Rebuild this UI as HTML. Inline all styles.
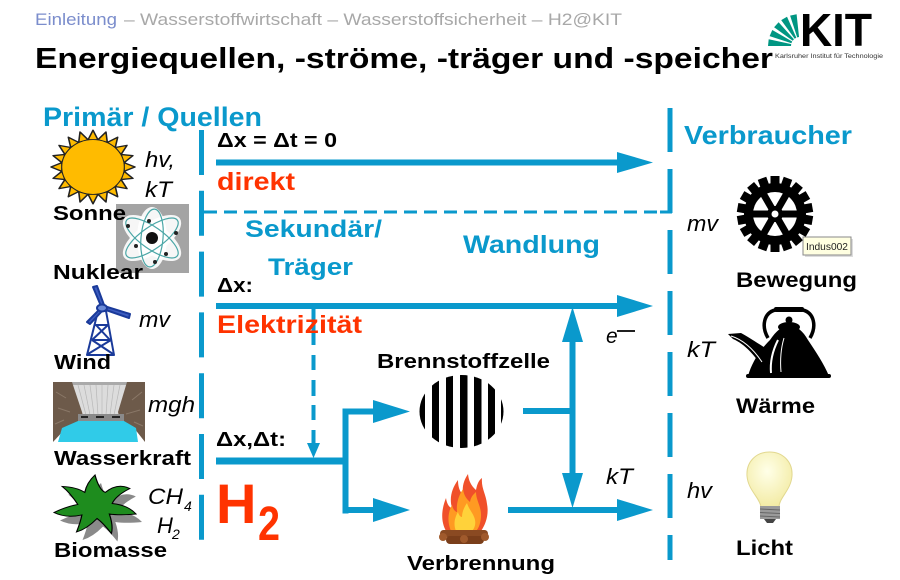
<!DOCTYPE html>
<html><head><meta charset="utf-8"><style>
html,body{margin:0;padding:0;background:#fff;}
svg{display:block;}
text{font-family:"Liberation Sans",Arial,sans-serif;}
.b{font-weight:700;}
.i{font-style:italic;}
</style></head><body>
<svg width="900" height="580" viewBox="0 0 900 580" xmlns="http://www.w3.org/2000/svg">
<rect width="900" height="580" fill="#fff"/>
<!-- header -->
<text x="35" y="25" font-size="17" fill="#7b8dcc" textLength="82" lengthAdjust="spacingAndGlyphs">Einleitung</text>
<text x="124" y="25" font-size="17" fill="#a8a8a8" textLength="498" lengthAdjust="spacingAndGlyphs">– Wasserstoffwirtschaft – Wasserstoffsicherheit – H2@KIT</text>
<text x="35" y="68" font-size="29" class="b" fill="#000" textLength="738" lengthAdjust="spacingAndGlyphs">Energiequellen, -ströme, -träger und -speicher</text>
<!-- KIT logo -->
<g fill="#009682">
<polygon points="800,46 768,46 768.7,39.3"/>
<polygon points="800,46 769.6,36.1 772.3,30"/>
<polygon points="800,46 774.1,27.2 778.6,22.2"/>
<polygon points="800,46 781.2,20.1 787,16.8"/>
<polygon points="800,46 790.1,15.6 796.6,14.2"/>
</g>
<circle cx="800" cy="46" r="9" fill="#fff"/>
<text x="800" y="46" font-size="46" class="b" fill="#000" textLength="72" lengthAdjust="spacingAndGlyphs">KIT</text>
<text x="775" y="58" font-size="6.5" fill="#333" textLength="108" lengthAdjust="spacingAndGlyphs">Karlsruher Institut für Technologie</text>

<!-- section titles -->
<text x="43" y="126" font-size="27" class="b" fill="#0a99cc" textLength="219" lengthAdjust="spacingAndGlyphs">Primär / Quellen</text>
<text x="684" y="144" font-size="26" class="b" fill="#0a99cc" textLength="168" lengthAdjust="spacingAndGlyphs">Verbraucher</text>

<!-- dashed verticals -->
<line x1="201.5" y1="130" x2="201.5" y2="540" stroke="#0a99cc" stroke-width="5" stroke-dasharray="45 15.8"/>
<line x1="670" y1="108" x2="670" y2="560" stroke="#0a99cc" stroke-width="5" stroke-dasharray="44 17"/>
<!-- dashed horizontal -->
<line x1="204" y1="212" x2="668" y2="212" stroke="#0a99cc" stroke-width="3" stroke-dasharray="13 7"/>
<line x1="660" y1="212" x2="672" y2="212" stroke="#0a99cc" stroke-width="3"/>

<!-- arrows -->
<g fill="#0a99cc" stroke="none">
<rect x="216" y="159.5" width="404" height="6"/>
<polygon points="617,152 653,162.5 617,173"/>
<rect x="216" y="303" width="404" height="6"/>
<polygon points="617,295 653,306 617,317"/>
<rect x="216" y="457.5" width="132" height="7"/>
<rect x="342.5" y="408.5" width="6" height="105"/>
<rect x="342.5" y="408.5" width="34" height="6"/>
<polygon points="373,400 410,411.5 373,423"/>
<rect x="342.5" y="507" width="34" height="6"/>
<polygon points="373,498 410,510 373,522"/>
<rect x="523" y="408" width="52" height="6"/>
<rect x="569.5" y="338" width="6" height="138"/>
<polygon points="562,342 572.5,307 583,342"/>
<polygon points="562,473 572.5,508 583,473"/>
<rect x="508" y="507" width="112" height="6"/>
<polygon points="617,499 653,510 617,521"/>
<!-- small dashed arrow -->
<rect x="311.5" y="308" width="4" height="37"/>
<rect x="311.5" y="355" width="4" height="15"/>
<rect x="311.5" y="380" width="4" height="16"/>
<rect x="311.5" y="405" width="4" height="15"/>
<rect x="311.5" y="430" width="4" height="14"/>
<polygon points="307,443 313.5,458 320,443"/>
</g>

<!-- middle labels -->
<text x="217" y="147" font-size="20" class="b" fill="#000" textLength="120" lengthAdjust="spacingAndGlyphs">Δx = Δt = 0</text>
<text x="217" y="190" font-size="25" class="b" fill="#ff3300" textLength="78" lengthAdjust="spacingAndGlyphs">direkt</text>
<text x="245" y="237" font-size="24" class="b" fill="#0a99cc" textLength="137" lengthAdjust="spacingAndGlyphs">Sekundär/</text>
<text x="268" y="275" font-size="24" class="b" fill="#0a99cc" textLength="85" lengthAdjust="spacingAndGlyphs">Träger</text>
<text x="463" y="253" font-size="25" class="b" fill="#0a99cc" textLength="137" lengthAdjust="spacingAndGlyphs">Wandlung</text>
<text x="217" y="292" font-size="20" class="b" fill="#000" textLength="36" lengthAdjust="spacingAndGlyphs">Δx:</text>
<text x="217" y="333" font-size="25" class="b" fill="#ff3300" textLength="145" lengthAdjust="spacingAndGlyphs">Elektrizität</text>
<text x="216" y="446" font-size="20" class="b" fill="#000" textLength="70" lengthAdjust="spacingAndGlyphs">Δx,Δt:</text>
<text x="216" y="523" font-size="56" class="b" fill="#ff3300">H</text>
<text x="258" y="540" font-size="48" class="b" fill="#ff3300" textLength="22" lengthAdjust="spacingAndGlyphs">2</text>
<text x="377" y="368" font-size="20" class="b" fill="#000" textLength="173" lengthAdjust="spacingAndGlyphs">Brennstoffzelle</text>
<text x="407" y="570" font-size="20" class="b" fill="#000" textLength="148" lengthAdjust="spacingAndGlyphs">Verbrennung</text>
<text x="606" y="343" font-size="21" class="i" fill="#000">e</text>
<line x1="617" y1="331" x2="635" y2="331" stroke="#000" stroke-width="1.8"/>
<text x="606" y="484" font-size="22" class="i" fill="#000" textLength="27" lengthAdjust="spacingAndGlyphs">kT</text>

<!-- fuel cell -->
<defs>
<clipPath id="fc"><ellipse cx="461.5" cy="411.5" rx="42" ry="36.5"/></clipPath>
</defs>
<g clip-path="url(#fc)" fill="#000">
<rect x="418" y="370" width="7" height="85"/>
<rect x="432" y="370" width="7" height="85"/>
<rect x="446" y="370" width="7" height="85"/>
<rect x="460" y="370" width="7.5" height="85"/>
<rect x="474" y="370" width="7.5" height="85"/>
<rect x="488" y="370" width="7" height="85"/>
<rect x="501" y="370" width="7" height="85"/>
</g>

<!-- fire -->
<g>
<path d="M446,531 C440,520 442,508 446,498 C447,505 450,508 452,508 C449,498 452,488 458,480 C458,490 462,494 463,494 C462,486 464,480 468,474 C469,484 474,488 476,490 C477,484 479,480 482,478 C481,488 486,494 487,504 C489,514 486,524 481,531 Z" fill="#f0502a"/>
<path d="M451,531 C447,522 448,512 452,505 C453,510 456,512 457,512 C456,503 459,495 463,489 C464,497 468,500 470,502 C471,496 474,494 476,492 C476,500 481,506 481,515 C481,522 479,528 476,531 Z" fill="#ff9a22"/>
<path d="M456,531 C453,524 455,517 458,512 C459,516 461,517 462,517 C462,511 465,506 467,503 C469,510 474,514 475,520 C476,525 474,529 472,531 Z" fill="#ffd23a"/>
<rect x="440" y="530" width="48" height="7" rx="3.5" fill="#8a4a22"/>
<rect x="446" y="536" width="38" height="8" rx="4" fill="#7a3e1a"/>
<circle cx="443" cy="537" r="4" fill="#a05a2c"/>
<circle cx="464" cy="539" r="4" fill="#a05a2c"/>
<circle cx="485" cy="537" r="4" fill="#a05a2c"/>
</g>

<!-- sun -->
<g transform="translate(93,167) scale(1.05,0.92)">
<defs><polygon id="sp" points="-4.7,-29.6 0,-40 4.7,-29.6" fill="#ffbb00" stroke="#222" stroke-width="1.5" stroke-linejoin="round"/></defs>
<use href="#sp"/><use href="#sp" transform="rotate(18)"/><use href="#sp" transform="rotate(36)"/><use href="#sp" transform="rotate(54)"/><use href="#sp" transform="rotate(72)"/><use href="#sp" transform="rotate(90)"/><use href="#sp" transform="rotate(108)"/><use href="#sp" transform="rotate(126)"/><use href="#sp" transform="rotate(144)"/><use href="#sp" transform="rotate(162)"/><use href="#sp" transform="rotate(180)"/><use href="#sp" transform="rotate(198)"/><use href="#sp" transform="rotate(216)"/><use href="#sp" transform="rotate(234)"/><use href="#sp" transform="rotate(252)"/><use href="#sp" transform="rotate(270)"/><use href="#sp" transform="rotate(288)"/><use href="#sp" transform="rotate(306)"/><use href="#sp" transform="rotate(324)"/><use href="#sp" transform="rotate(342)"/>
<circle r="29.3" fill="#ffbb00"/>
</g>
<text x="145" y="167" font-size="22" class="i" fill="#000" textLength="30" lengthAdjust="spacingAndGlyphs">hv,</text>
<text x="145" y="197" font-size="22" class="i" fill="#000" textLength="27" lengthAdjust="spacingAndGlyphs">kT</text>

<!-- atom -->
<rect x="116" y="204" width="73" height="69" fill="#a4a4a4"/>
<g transform="translate(152,238)">
<ellipse rx="34" ry="15" fill="#fff" opacity="0.9" transform="rotate(35)"/>
<ellipse rx="34" ry="15" fill="#fff" opacity="0.9" transform="rotate(-35)"/>
<ellipse rx="15" ry="31" fill="#fff" opacity="0.9"/>
<ellipse rx="31" ry="11" fill="none" stroke="#4aa6a6" stroke-width="1.2" transform="rotate(35)"/>
<ellipse rx="31" ry="11" fill="none" stroke="#4aa6a6" stroke-width="1.2" transform="rotate(-35)"/>
<ellipse rx="11" ry="29" fill="none" stroke="#4aa6a6" stroke-width="1.2" transform="rotate(5)"/>
<circle r="6" fill="#111"/>
<circle cx="-3" cy="-17" r="2" fill="#222"/><circle cx="24" cy="-5" r="2" fill="#222"/><circle cx="-24" cy="-12" r="2" fill="#222"/><circle cx="-16" cy="8" r="2" fill="#222"/><circle cx="14" cy="16" r="2" fill="#222"/><circle cx="3" cy="24" r="2" fill="#222"/>
</g>
<text x="53" y="220" font-size="20" class="b" fill="#000" textLength="73" lengthAdjust="spacingAndGlyphs">Sonne</text>
<text x="53" y="279" font-size="20" class="b" fill="#000" textLength="90" lengthAdjust="spacingAndGlyphs">Nuklear</text>

<!-- wind turbine -->
<g stroke="#1a3a9a" stroke-width="2" fill="#fff" stroke-linejoin="round">
<polygon points="98,311 106,311 114,355 87,355"/>
<line x1="95" y1="325" x2="108" y2="325"/>
<line x1="92" y1="340" x2="111" y2="340"/>
<line x1="96" y1="325" x2="110" y2="340"/>
<line x1="108" y1="325" x2="92" y2="340"/>
<line x1="92" y1="340" x2="113" y2="354"/>
<line x1="111" y1="340" x2="88" y2="354"/>
<polygon points="101,306 93,287 97,286 104,305" fill="#3c5cc0"/>
<polygon points="104,306 130,314 129,318 103,309" fill="#3c5cc0"/>
<polygon points="100,309 87,322 90,324 103,310" fill="#3c5cc0"/>
<ellipse cx="102" cy="308" rx="5" ry="3.5" fill="#6a8ad8"/>
</g>
<text x="139" y="327" font-size="22" class="i" fill="#000" textLength="31" lengthAdjust="spacingAndGlyphs">mv</text>
<text x="54" y="369" font-size="20" class="b" fill="#000" textLength="57" lengthAdjust="spacingAndGlyphs">Wind</text>

<!-- dam -->
<rect x="53" y="382" width="92" height="60" fill="#fff"/>
<polygon points="72,384 127,384 118,416 82,416" fill="#dcdcdc"/>
<g stroke="#b8b8b8" stroke-width="0.7">
<line x1="78" y1="385" x2="86" y2="415"/><line x1="84" y1="385" x2="90" y2="415"/><line x1="90" y1="385" x2="94" y2="415"/><line x1="96" y1="385" x2="98" y2="415"/><line x1="102" y1="385" x2="102" y2="415"/><line x1="108" y1="385" x2="106" y2="415"/><line x1="114" y1="385" x2="110" y2="415"/><line x1="120" y1="385" x2="114" y2="415"/>
</g>
<rect x="72" y="382" width="55" height="3" fill="#aaa"/>
<polygon points="53,382 72,382 82,412 84,420 66,428 53,442" fill="#6d5a4a"/>
<polygon points="145,382 127,382 118,412 120,420 134,428 145,442" fill="#6d5a4a"/>
<g stroke="#8a7868" stroke-width="1" fill="none">
<path d="M56,392 L66,398 M58,408 L70,412 M55,424 L64,420 M142,392 L132,400 M140,410 L126,414 M143,426 L134,422"/>
</g>
<rect x="78" y="414" width="46" height="7" fill="#8a8a8a"/>
<g fill="#222"><rect x="81" y="416" width="7" height="2"/><rect x="96" y="416" width="8" height="2"/><rect x="112" y="416" width="8" height="2"/></g>
<polygon points="58,442 62,428 78,421 124,421 136,428 138,442" fill="#30cbe8"/>
<text x="148" y="412" font-size="22" class="i" fill="#000" textLength="47" lengthAdjust="spacingAndGlyphs">mgh</text>
<text x="54" y="465" font-size="20" class="b" fill="#000" textLength="137" lengthAdjust="spacingAndGlyphs">Wasserkraft</text>

<!-- biomass -->
<defs>
<path id="leaf" d="M0,-1 Q0.1,-0.5 0.25,-0.42 Q0.55,-0.75 0.85,-0.55 Q0.5,-0.3 0.42,-0.05 Q0.8,0 1,0.3 Q0.6,0.35 0.35,0.3 Q0.45,0.7 0.4,0.95 Q0.2,0.6 0.05,0.45 Q-0.2,0.8 -0.45,0.9 Q-0.35,0.55 -0.32,0.33 Q-0.7,0.45 -1,0.25 Q-0.7,0.05 -0.42,-0.02 Q-0.6,-0.4 -0.8,-0.62 Q-0.45,-0.6 -0.25,-0.42 Q-0.2,-0.75 0,-1 Z"/>
</defs>
<use href="#leaf" transform="translate(101,513) scale(41,30)" fill="#8a8a8a"/>
<use href="#leaf" transform="translate(95,505) scale(41,30)" fill="#1e8c1e" stroke="#000" stroke-width="0.03"/>
<text x="148" y="504" font-size="22" class="i" fill="#000" textLength="35" lengthAdjust="spacingAndGlyphs">CH</text>
<text x="184" y="511" font-size="14" class="i" fill="#000">4</text>
<text x="157" y="533" font-size="22" class="i" fill="#000">H</text>
<text x="172" y="539" font-size="14" class="i" fill="#000">2</text>
<text x="54" y="557" font-size="20" class="b" fill="#000" textLength="113" lengthAdjust="spacingAndGlyphs">Biomasse</text>

<!-- gear -->
<g transform="translate(775,214)">
<defs><rect id="th" x="-4.5" y="-38" width="9" height="10" fill="#000"/></defs>
<use href="#th"/><use href="#th" transform="rotate(20)"/><use href="#th" transform="rotate(40)"/><use href="#th" transform="rotate(60)"/><use href="#th" transform="rotate(80)"/><use href="#th" transform="rotate(100)"/><use href="#th" transform="rotate(120)"/><use href="#th" transform="rotate(140)"/><use href="#th" transform="rotate(160)"/><use href="#th" transform="rotate(180)"/><use href="#th" transform="rotate(200)"/><use href="#th" transform="rotate(220)"/><use href="#th" transform="rotate(240)"/><use href="#th" transform="rotate(260)"/><use href="#th" transform="rotate(280)"/><use href="#th" transform="rotate(300)"/><use href="#th" transform="rotate(320)"/><use href="#th" transform="rotate(340)"/>
<circle r="31" fill="#000"/>
<circle r="22" fill="#fff"/>
<rect x="-24" y="-3.5" width="48" height="7" fill="#000"/>
<rect x="-24" y="-3.5" width="48" height="7" fill="#000" transform="rotate(60)"/>
<rect x="-24" y="-3.5" width="48" height="7" fill="#000" transform="rotate(120)"/>
<circle r="8" fill="#000"/>
<circle r="3.5" fill="#fff"/>
</g>
<rect x="805" y="239" width="48" height="18" fill="#bbb" opacity="0.5"/>
<rect x="803" y="237" width="48" height="18" fill="#ffffe1" stroke="#8a8a8a" stroke-width="1"/>
<text x="806" y="250" font-size="10.5" fill="#222" textLength="42" lengthAdjust="spacingAndGlyphs">Indus002</text>
<text x="687" y="231" font-size="22" class="i" fill="#000" textLength="31" lengthAdjust="spacingAndGlyphs">mv</text>
<text x="736" y="287" font-size="21.5" class="b" fill="#000" textLength="121" lengthAdjust="spacingAndGlyphs">Bewegung</text>

<!-- kettle -->
<g>
<path d="M768,338 C761,326 764,313 775,310 L803,310 C814,313 817,326 810,338" fill="none" stroke="#000" stroke-width="3.5"/>
<path d="M771,336 C766,326 768,316 776,313 L802,313 C810,316 812,326 807,336" fill="none" stroke="#fff" stroke-width="1"/>
<rect x="774" y="307" width="30" height="5" rx="2" fill="#000"/>
<path d="M748,376 C752,362 760,350 770,340 C776,331 782,326 789,325 C797,326 803,331 808,340 C816,352 824,364 829,376 Z" fill="#000"/>
<ellipse cx="789" cy="327" rx="11" ry="5" fill="#000"/>
<circle cx="789" cy="320" r="3.5" fill="#000"/>
<path d="M772,352 C762,346 750,338 741,333 L728,334 L733,339 C745,344 755,356 763,368 Z" fill="#000"/>
<path d="M731,336 C744,340 754,350 762,362" fill="none" stroke="#fff" stroke-width="1"/>
<path d="M778,340 C773,350 770,362 771,373" fill="none" stroke="#fff" stroke-width="2"/>
<path d="M784,338 C781,348 780,360 781,372" fill="none" stroke="#fff" stroke-width="1"/>
<rect x="746" y="374" width="85" height="4" rx="2" fill="#000"/>
</g>
<text x="687" y="357" font-size="22" class="i" fill="#000" textLength="28" lengthAdjust="spacingAndGlyphs">kT</text>
<text x="736" y="413" font-size="21.5" class="b" fill="#000" textLength="79" lengthAdjust="spacingAndGlyphs">Wärme</text>

<!-- bulb -->
<defs><radialGradient id="bg" cx="0.45" cy="0.35" r="0.7"><stop offset="0" stop-color="#ffffe8"/><stop offset="1" stop-color="#f2eaa0"/></radialGradient></defs>
<path d="M761,507 C760,498 748,490 747,476 C746,461 757,452 769.5,452 C782,452 793,461 792,476 C791,490 779,498 779,507 Z" fill="url(#bg)" stroke="#e2d890" stroke-width="1"/>
<rect x="760" y="506" width="20" height="13" fill="#9a9a9a"/>
<g stroke="#666" stroke-width="1"><line x1="760" y1="509" x2="780" y2="510"/><line x1="760" y1="512.5" x2="780" y2="513.5"/><line x1="760" y1="516" x2="780" y2="517"/></g>
<path d="M764,519 L776,519 L773,523 L767,523 Z" fill="#444"/>
<text x="687" y="498" font-size="22" class="i" fill="#000" textLength="25" lengthAdjust="spacingAndGlyphs">hv</text>
<text x="736" y="555" font-size="21.5" class="b" fill="#000" textLength="57" lengthAdjust="spacingAndGlyphs">Licht</text>
</svg>
</body></html>
